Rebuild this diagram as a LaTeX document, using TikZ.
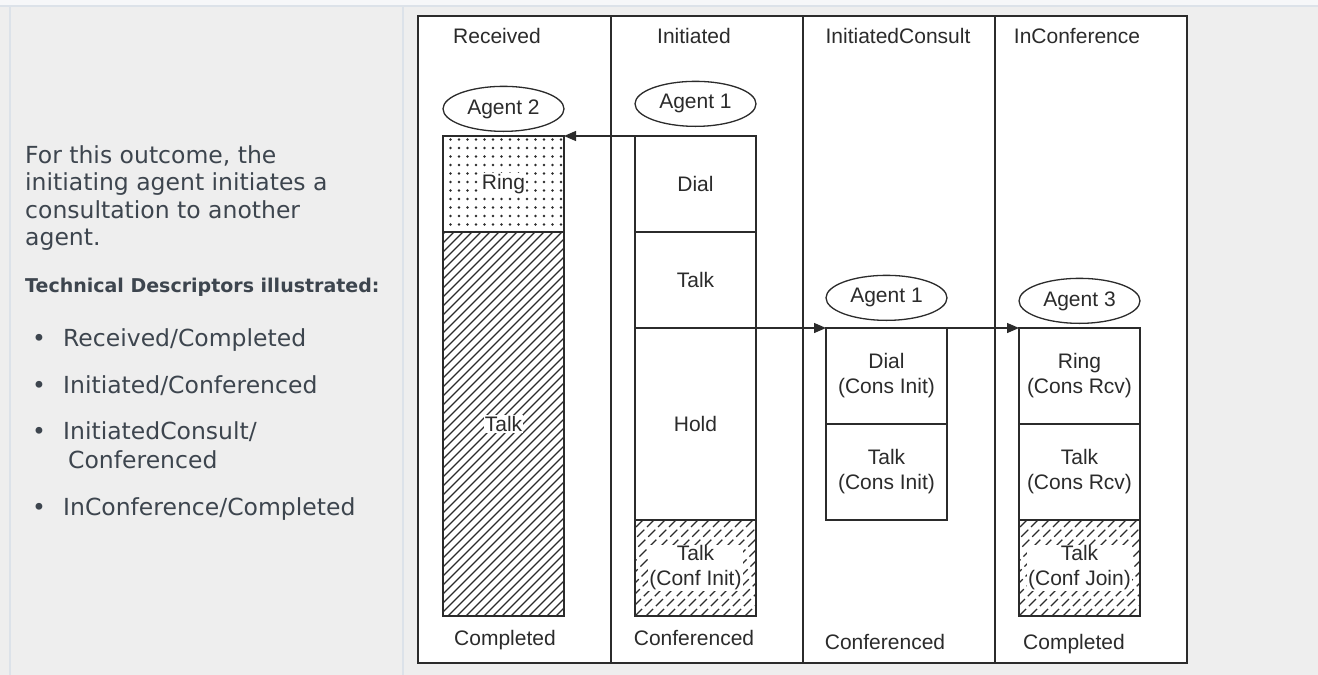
\documentclass[tikz,border=0pt]{standalone}
\usepackage{fontspec}
\setmainfont{Liberation Sans}
\newfontfamily\descfont{DejaVu Sans}
\usetikzlibrary{positioning,shapes.geometric,arrows.meta,patterns.meta}
\definecolor{pagegray}{HTML}{EEEEEE}
\definecolor{topstrip}{HTML}{F6F7F9}
\definecolor{cellline}{HTML}{DCE2E9}
\definecolor{desctext}{HTML}{3D454E}
\definecolor{ink}{HTML}{2B2B2B}
\begin{document}
\begin{tikzpicture}[x=1pt,y=1pt,
    desc/.style={font=\descfont\fontsize{23.5}{27.5}\selectfont, text=desctext, inner sep=0pt, anchor=base west},
    hdr/.style={font=\fontsize{21}{25}\selectfont, text=ink, inner sep=0pt, anchor=base},
    phase/.style={draw=ink, line width=1.5pt, minimum width=121pt, minimum height=96pt, inner sep=0pt, outer sep=0pt,
        align=center, font=\fontsize{21}{25}\selectfont, text=ink},
    agent/.style={ellipse, draw=ink, line width=1.3pt, minimum width=121pt, minimum height=45pt, inner sep=0pt,
        font=\fontsize{21}{25}\selectfont, text=ink},
    knock/.style={fill=white, inner sep=1pt, align=center, font=\fontsize{21}{25}\selectfont, text=ink},
    dotfill/.style={pattern={Dots[distance=8.5pt,radius=1.3pt]}, pattern color=ink},
    talkfill/.style={path picture={
        \foreach \d in {-400,-391,...,130}
            \draw[ink, line width=1.2pt] ([xshift=\d pt]path picture bounding box.south west) -- ++(400,400);
    }},
    conffill/.style={path picture={
        \foreach \d in {-110,-99,...,130}
            \draw[ink, line width=1.2pt, dash pattern=on 10pt off 4pt] ([xshift=\d pt]path picture bounding box.south west) -- ++(140,140);
    }},
    msg/.style={-{Triangle[length=12pt,width=10pt]}, draw=ink, line width=1.3pt},
    frame/.style={draw=ink, line width=2.6pt},
    colline/.style={draw=ink, line width=2pt}]
    \useasboundingbox (0,0) rectangle (1318,-675);
    \fill[pagegray] (0,0) rectangle (1318,-675);
    \fill[topstrip] (0,0) rectangle (1318,-6);
    \draw[cellline, line width=1.5pt] (0,-6) -- (1318,-6);
    \draw[cellline, line width=1.5pt] (10,-6) -- (10,-675) (403,-6) -- (403,-675);

    \foreach \t [count=\i] in {{For this outcome, the},{initiating agent initiates a},{consultation to another},{agent.}}
        \node[desc] (para\i) at (25,{-163-27.5*(\i-1)}) {\t};
    \node[desc, font=\descfont\bfseries\fontsize{19}{23}\selectfont] (techhead) at (25,-292) {Technical Descriptors illustrated:};
    \foreach \y/\t [count=\i] in {346/{Received/Completed},393/{Initiated/Conferenced},439/{InitiatedConsult/},515/{InConference/Completed}} {
        \node[desc, anchor=base] (dot\i) at (39,-\y) {•};
        \node[desc] (item\i) at (63,-\y) {\t};
    }
    \node[desc] (item3b) at (68,-468) {Conferenced};

    \draw[frame, fill=white] (418,-16) rectangle (1187,-663);
    \foreach \x in {611,803,995}
        \draw[colline] (\x,-16) -- (\x,-663);

    \node[hdr] (hdrrecv) at (497,-43) {Received};
    \node[hdr] (hdrinit) at (694,-43) {Initiated};
    \node[hdr] (hdrcons) at (898,-43) {InitiatedConsult};
    \node[hdr] (hdrconf) at (1077,-43) {InConference};

    \node[phase, dotfill, anchor=north west, label={[knock]center:Ring}] (recvring) at (443,-136) {};
    \node[phase, talkfill, minimum height=384pt, below=0pt of recvring, label={[knock]center:Talk}] (recvtalk) {};
    \node[agent, above=4pt of recvring] (agent2) {Agent 2};

    \node[phase, anchor=north west] (initdial) at (635,-136) {Dial};
    \node[phase, below=0pt of initdial] (inittalk) {Talk};
    \node[phase, minimum height=192pt, below=0pt of inittalk] (inithold) {Hold};
    \node[phase, conffill, below=0pt of inithold, label={[knock]center:Talk\\(Conf Init)}] (initconf) {};
    \node[agent, above=9pt of initdial] (agent1) {Agent 1};

    \node[phase, anchor=north west] (consdial) at (826,-328) {Dial\\(Cons Init)};
    \node[phase, below=0pt of consdial] (constalk) {Talk\\(Cons Init)};
    \node[agent, above=7pt of consdial] (agent1c) {Agent 1};

    \node[phase, anchor=north west] (confring) at (1019,-328) {Ring\\(Cons Rcv)};
    \node[phase, below=0pt of confring] (conftalk) {Talk\\(Cons Rcv)};
    \node[phase, conffill, below=0pt of conftalk, label={[knock]center:Talk\\(Conf Join)}] (confjoin) {};
    \node[agent, above=4pt of confring] (agent3) {Agent 3};

    \draw[msg] (initdial.north west) -- (recvring.north east);
    \draw[msg] (inittalk.south east) -- (consdial.north west);
    \draw[msg] (consdial.north east) -- (confring.north west);

    \node[hdr] (endrecv) at (505,-645) {Completed};
    \node[hdr] (endinit) at (694,-645) {Conferenced};
    \node[hdr] (endcons) at (885,-649) {Conferenced};
    \node[hdr] (endconf) at (1074,-649) {Completed};
\end{tikzpicture}
\end{document}
